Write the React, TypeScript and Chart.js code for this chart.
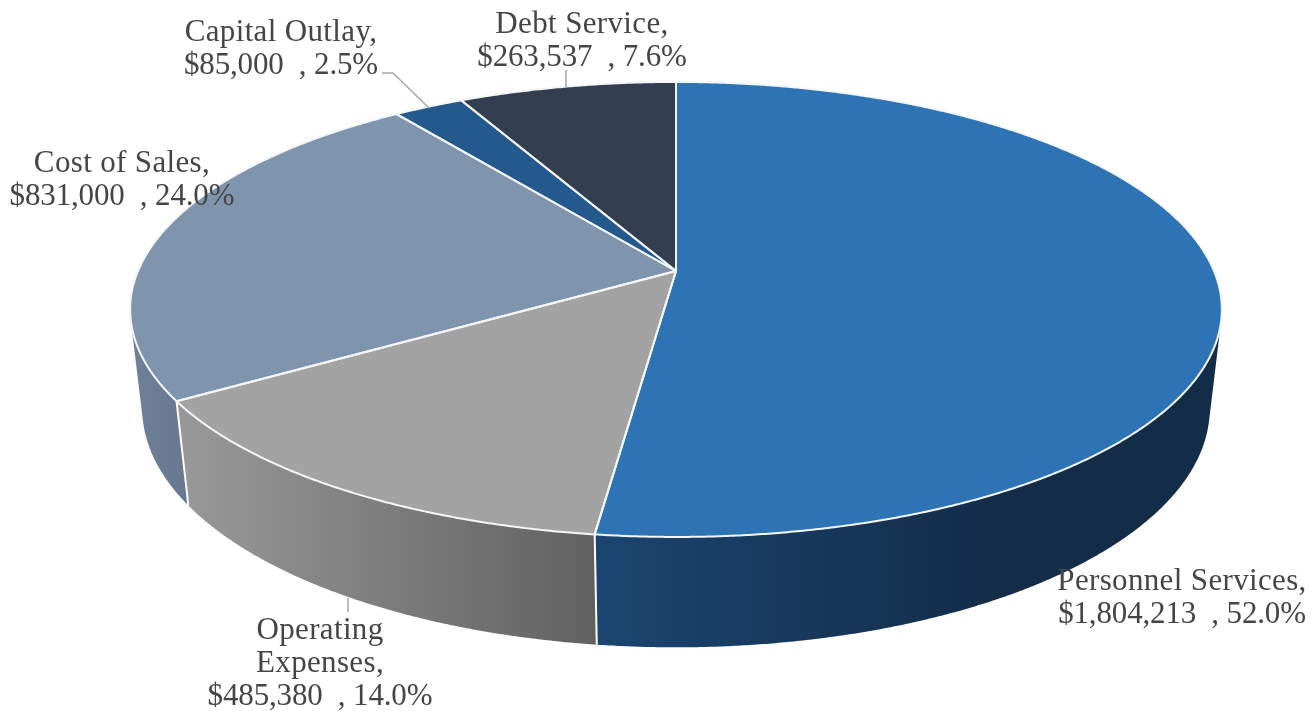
import React, { useEffect, useRef } from "react";
import { Chart, registerables } from "chart.js";

Chart.register(...registerables);

const categories = ["Personnel Services", "Operating Expenses", "Cost of Sales", "Capital Outlay", "Debt Service"];
const values = [1804213, 485380, 831000, 85000, 263537];
const topColors = ["#2e74b5", "#a3a3a3", "#7f95ae", "#24598e", "#333f50"];
const wallLeftColors = ["#1b4570", "#989898", "#6f8199", "#1b436b", "#262f3c"];
const wallRightColors = ["#132c48", "#616161", "#677991", "#1b436b", "#262f3c"];
const wallGradientFrom = [597, 187, 132, 400, 470];
const wallGradientTo = [1000, 595, 187, 470, 676];

const TEXT = "#454545";
const FONT = '31px "Liberation Serif"';
const LINE = 33;

// Perspective of the tilted disc, relative to the radius Chart.js computes.
const SX = 538 / 271;
const SY = 221 / 271;
const K = 0.169;
const DROP = 100 / 271;
const FAR = 0.022;

type Pt = [number, number];

function project(el: any, angle: number, low: boolean): Pt {
  const R = el.outerRadius;
  const u = Math.cos(angle);
  const v = Math.sin(angle);
  const w = 1 - K * v + (low ? FAR : 0);
  return [
    el.x + (SX * R * u) / w,
    el.y + (SY * R * v + (low ? DROP * R : 0)) / w,
  ];
}

function rim(el: any, low: boolean): Pt[] {
  const n = Math.max(8, Math.ceil((el.endAngle - el.startAngle) * 200));
  const pts: Pt[] = [];
  for (let i = 0; i <= n; i++) {
    pts.push(project(el, el.startAngle + ((el.endAngle - el.startAngle) * i) / n, low));
  }
  return pts;
}

function addPoly(ctx: CanvasRenderingContext2D, pts: Pt[]) {
  pts.forEach((p, i) => (i ? ctx.lineTo(p[0], p[1]) : ctx.moveTo(p[0], p[1])));
  ctx.closePath();
}

function trace(ctx: CanvasRenderingContext2D, pts: Pt[]) {
  ctx.beginPath();
  addPoly(ctx, pts);
}

function area(pts: Pt[]) {
  let a = 0;
  pts.forEach((p, i) => {
    const q = pts[(i + 1) % pts.length];
    a += p[0] * q[1] - q[0] * p[1];
  });
  return a;
}

const share = (i: number) => {
  const total = values.reduce((a, b) => a + b, 0);
  return ((values[i] / total) * 100).toFixed(1) + "%";
};
const money = (i: number) => "$" + values[i].toLocaleString("en-US") + "  , " + share(i);

const labelLines = [
  [categories[0] + ",", money(0)],
  ["Operating", "Expenses,", money(1)],
  [categories[2] + ",", money(2)],
  [categories[3] + ",", money(3)],
  [categories[4] + ",", money(4)],
];
const labelAnchors: Pt[] = [
  [1182, 590],
  [320, 639],
  [122, 172],
  [281, 41],
  [582, 33],
];
const leaders: Pt[][] = [
  [],
  [[348, 598], [348, 612]],
  [],
  [[382, 73], [393, 73], [429, 108]],
  [[566, 70], [566, 87]],
];

const disc3d = {
  id: "disc3d",
  beforeDatasetsDraw(chart: any) {
    const ctx: CanvasRenderingContext2D = chart.ctx;
    const arcs: any[] = chart.getDatasetMeta(0).data;
    ctx.save();
    ctx.lineJoin = "round";

    // side walls: one path of consistently wound strips, so no seams and no folds cancel out
    arcs.forEach((el, i) => {
      const top = rim(el, false);
      const low = rim(el, true);
      const grad = ctx.createLinearGradient(wallGradientFrom[i], 0, wallGradientTo[i], 0);
      grad.addColorStop(0, wallLeftColors[i]);
      grad.addColorStop(1, wallRightColors[i]);
      ctx.fillStyle = grad;
      ctx.beginPath();
      for (let s = 0; s < top.length - 1; s++) {
        const quad: Pt[] = [top[s], top[s + 1], low[s + 1], low[s]];
        addPoly(ctx, area(quad) < 0 ? quad.reverse() : quad);
      }
      ctx.fill("nonzero");
    });
    arcs.forEach((el) => {
      const a = project(el, el.startAngle, false);
      const b = project(el, el.startAngle, true);
      ctx.strokeStyle = "#ffffff";
      ctx.lineWidth = 2;
      ctx.beginPath();
      ctx.moveTo(a[0], a[1]);
      ctx.lineTo(b[0], b[1]);
      ctx.stroke();
    });

    // top face
    arcs.forEach((el, i) => {
      trace(ctx, [[el.x, el.y], ...rim(el, false)]);
      ctx.fillStyle = topColors[i];
      ctx.fill();
    });
    arcs.forEach((el) => {
      trace(ctx, [[el.x, el.y], ...rim(el, false)]);
      ctx.strokeStyle = "#f4f6f8";
      ctx.lineWidth = 2;
      ctx.stroke();
    });

    // leader lines
    ctx.strokeStyle = "#a6a6a6";
    ctx.lineWidth = 1.5;
    leaders.forEach((pts) => {
      if (!pts.length) return;
      ctx.beginPath();
      pts.forEach((p, j) => (j ? ctx.lineTo(p[0], p[1]) : ctx.moveTo(p[0], p[1])));
      ctx.stroke();
    });

    // data labels
    ctx.font = FONT;
    ctx.fillStyle = TEXT;
    ctx.textAlign = "center";
    ctx.textBaseline = "alphabetic";
    labelLines.forEach((lines, i) => {
      lines.forEach((t, j) => {
        (ctx as any).letterSpacing = t.startsWith("$") ? "-0.15px" : "0.35px";
        ctx.fillText(t, labelAnchors[i][0], labelAnchors[i][1] + j * LINE);
      });
    });
    ctx.restore();
    return false;
  },
};

export default function App() {
  const ref = useRef<HTMLCanvasElement>(null);
  useEffect(() => {
    document.body.style.margin = "0";
    document.body.style.background = "#ffffff";
    const chart = new Chart(ref.current as HTMLCanvasElement, {
      type: "pie",
      data: {
        labels: categories,
        datasets: [{ data: values, backgroundColor: topColors, borderWidth: 0 }],
      },
      options: {
        animation: false,
        responsive: false,
        layout: { padding: { left: 36, right: 0, top: 0, bottom: 169 } },
        plugins: { legend: { display: false }, tooltip: { enabled: false } },
      },
      plugins: [disc3d],
    } as any);
    return () => chart.destroy();
  }, []);
  return <canvas ref={ref} width={1316} height={711} style={{ display: "block", filter: "blur(0.4px)" }} />;
}
